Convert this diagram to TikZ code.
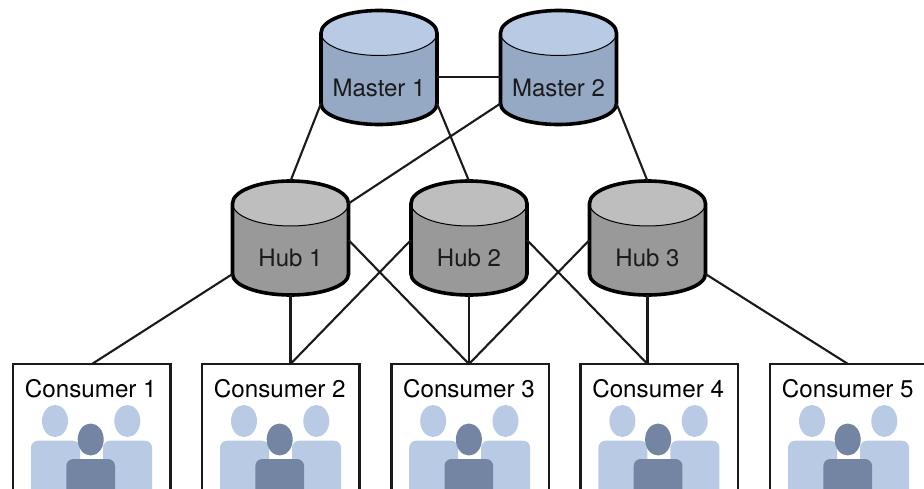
\documentclass[tikz,border=0pt]{standalone}
\usepackage{fontspec}
\setmainfont{TeX Gyre Heros}
\definecolor{mbody}{HTML}{95A8C4}
\definecolor{mtop}{HTML}{B8CAE4}
\definecolor{hbody}{HTML}{999999}
\definecolor{htop}{HTML}{BEBEBE}
\definecolor{pdark}{HTML}{7385A2}
\definecolor{ink}{HTML}{1A1A1A}
\tikzset{
  x=1pt,y=-1pt,
  link/.style={draw=ink,line width=2.1pt},
  rim/.style={draw=black,line width=3.6pt,line join=round},
  thinrim/.style={draw=black,line width=1pt},
  cylabel/.style={font=\fontsize{24}{26}\selectfont,text=ink,inner sep=0pt},
  conlabel/.style={font=\fontsize{24.2}{26}\selectfont,text=black,inner sep=0pt},
  conbox/.style={draw=ink,line width=2.6pt,fill=white},
}
% name, left x, top-rim y, label, body colour, top colour
\newcommand{\cylinderdb}[6]{%
  \coordinate (#1tl) at (#2,#3+22.5);
  \coordinate (#1tr) at (#2+116,#3+22.5);
  \coordinate (#1ml) at (#2,#3+59);
  \coordinate (#1mr) at (#2+116,#3+59);
  \coordinate (#1hl) at (#2,#3+66.5);
  \coordinate (#1hr) at (#2+116,#3+66.5);
  \coordinate (#1bl) at (#2,#3+93);
  \coordinate (#1br) at (#2+116,#3+93);
  \coordinate (#1t) at (#2+58,#3);
  \coordinate (#1b) at (#2+58,#3+114);
  \path[fill=#5] (#1tl) -- (#1bl) arc[start angle=180,end angle=360,x radius=58,y radius=-21] -- (#1tr) -- cycle;
  \path[fill=#6] (#1tl) arc[start angle=180,end angle=540,x radius=58,y radius=22.5];
  \draw[thinrim] (#1tl) arc[start angle=180,end angle=360,x radius=58,y radius=-22.5];
  \draw[rim] (#1tl) arc[start angle=180,end angle=0,x radius=58,y radius=-22.5] -- (#1br) arc[start angle=360,end angle=180,x radius=58,y radius=-21] -- cycle;
  \node[cylabel] (#1) at (#2+58,#3+77) {#4};
}
% name, left x, label, x of the connector landing point
\newcommand{\consumerbox}[4]{%
  \coordinate (#1t) at (#4,364);
  \draw[conbox] (#2,364) rectangle (#2+157.7,500);
  \node[conlabel] (#1) at (#2+77.8,388.5) {#3};
  \fill[mtop] (#2+42,421) ellipse[x radius=13,y radius=16];
  \fill[mtop] (#2+114.3,421) ellipse[x radius=13,y radius=16];
  \fill[mtop,rounded corners=7pt] (#2+18,500) -- (#2+18,440.7) -- (#2+67,440.7) -- (#2+67,500) -- cycle;
  \fill[mtop,rounded corners=7pt] (#2+90,500) -- (#2+90,440.7) -- (#2+139,440.7) -- (#2+139,500) -- cycle;
  \fill[pdark] (#2+77.7,439.5) ellipse[x radius=13,y radius=16];
  \fill[pdark,rounded corners=7pt] (#2+53.3,500) -- (#2+53.3,459) -- (#2+102,459) -- (#2+102,500) -- cycle;
}
\begin{document}
\begin{tikzpicture}
\useasboundingbox (0,0) rectangle (924,489);
\clip (0,0) rectangle (924,489);
\cylinderdb{mA}{321}{10.5}{Master 1}{mbody}{mtop}
\cylinderdb{mB}{500.5}{10.5}{Master 2}{mbody}{mtop}
\cylinderdb{hA}{232.5}{181}{Hub 1}{hbody}{htop}
\cylinderdb{hB}{411}{181}{Hub 2}{hbody}{htop}
\cylinderdb{hC}{589.5}{181}{Hub 3}{hbody}{htop}
\consumerbox{cA}{13}{Consumer 1}{92}
\consumerbox{cB}{202}{Consumer 2}{290.5}
\consumerbox{cC}{391.2}{Consumer 3}{469}
\consumerbox{cD}{580.4}{Consumer 4}{647.5}
\consumerbox{cE}{770}{Consumer 5}{848}
\draw[link] (mAhr) -- (mBhl);
\draw[link] (mAbl) -- (hAt);
\draw[link] (mAbr) -- (hBt);
\draw[link] (mBbl) -- (hAtr);
\draw[link] (mBbr) -- (hCt);
\draw[link] (hAbl) -- (cAt);
\draw[link] (hAb) -- (cBt);
\draw[link] (hAmr) -- (cCt);
\draw[link] (hBml) -- (cBt);
\draw[link] (hBb) -- (cCt);
\draw[link] (hBmr) -- (cDt);
\draw[link] (hCml) -- (cCt);
\draw[link] (hCb) -- (cDt);
\draw[link] (hCbr) -- (cEt);
\end{tikzpicture}
\end{document}
